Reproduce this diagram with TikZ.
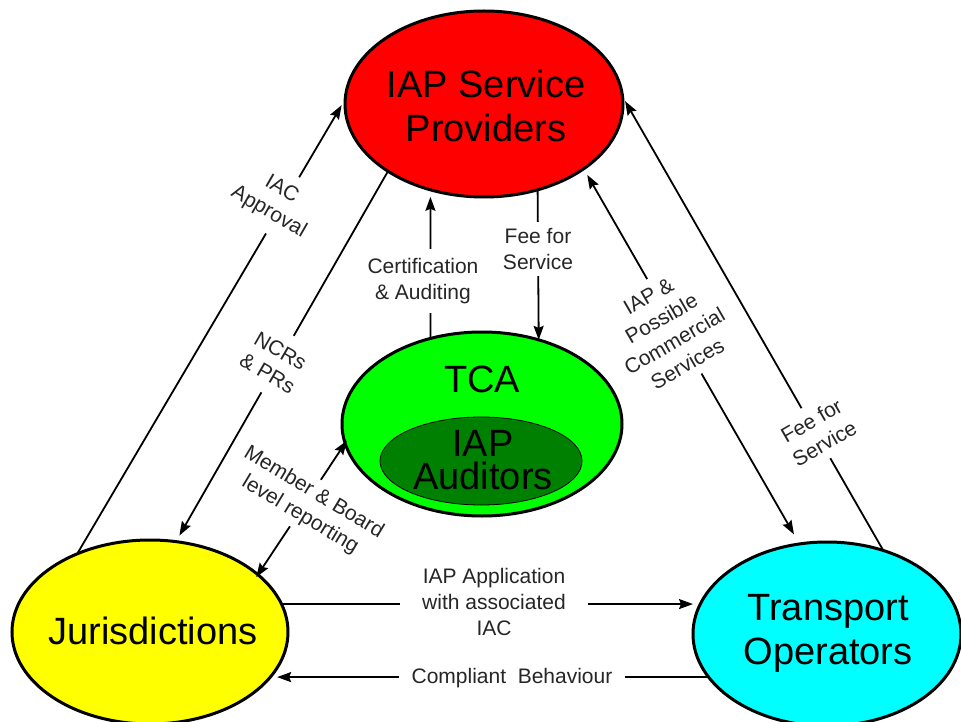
\documentclass[tikz,border=0pt]{standalone}
\usepackage{fontspec}
\setmainfont{Liberation Sans}
\usetikzlibrary{shapes.geometric,arrows.meta}
\definecolor{provred}{RGB}{255,0,0}
\definecolor{tcagreen}{RGB}{0,255,0}
\definecolor{auditgreen}{RGB}{0,128,0}
\definecolor{juryellow}{RGB}{255,255,0}
\definecolor{opcyan}{RGB}{0,255,255}
\begin{document}
\begin{tikzpicture}[x=1pt,y=-1pt,
  party/.style={ellipse,draw=black,line width=3pt,inner sep=0pt,outer sep=0pt},
  bigtext/.style={font=\fontsize{38}{44}\selectfont,align=center,inner sep=0pt},
  flow/.style={line width=1.8pt,-{Stealth[length=14pt,width=10pt,inset=2pt]}},
  twoway/.style={line width=1.8pt,{Stealth[length=14pt,width=10pt,inset=2pt]}-{Stealth[length=14pt,width=10pt,inset=2pt]}},
  plain/.style={line width=1.8pt},
  tag/.style={fill=white,font=\fontsize{21}{26}\selectfont,align=center,text=black!85,inner xsep=2pt}
]
\useasboundingbox (0,0) rectangle (961,722);

% the four parties and the audit body
\node[party,fill=provred,minimum width=278pt,minimum height=186pt] (prov) at (484,104) {};
\node[party,fill=tcagreen,minimum width=280pt,minimum height=184pt] (tca) at (482,424) {};
\node[ellipse,draw=black,line width=0.8pt,fill=auditgreen,inner sep=0pt,outer sep=0pt,
      minimum width=202pt,minimum height=88pt] (aud) at (481,461) {};
\node[party,fill=juryellow,minimum width=276pt,minimum height=184pt] (jur) at (150,632) {};
\node[party,fill=opcyan,minimum width=268pt,minimum height=184pt] (ops) at (827,634) {};

\node[bigtext] (provtxt) at (486,106) {IAP Service\\Providers};
\node[bigtext] (tcatxt) at (482,379) {TCA};
\node[bigtext,font=\fontsize{38}{33}\selectfont] (audtxt) at (483,460) {IAP\\Auditors};
\node[bigtext] (jurtxt) at (153,631) {Jurisdictions};
\node[bigtext] (opstxt) at (828,633) {Transport\\Operators};

% relationships
\draw[flow,shorten >=7pt] (jur.133) -- (prov.178);
\draw[flow,shorten >=7pt] (prov.215) -- (jur.74);
\draw[twoway,shorten <=-3pt,shorten >=-3pt] (jur.28) -- (tca.188);
\draw[flow,shorten >=7pt] (tca.121) -- (prov.238);
\draw[flow] (prov.302) -- (tca.56);
\draw[twoway,shorten <=11pt,shorten >=7pt] (ops.107) -- (prov.327);
\draw[flow,shorten >=5pt] (ops.56) -- (prov.3);
\draw[flow] (jur.12) -- (jur.12 -| ops.west);
\draw[flow,shorten >=6pt] (ops.200) -- (ops.200 -| jur.340);

% relationship labels
\node[tag,rotate=-30,inner ysep=10pt] (iacL) at (275,201) {IAC\\Approval};
\node[tag,rotate=-30,inner ysep=12pt] (ncrL) at (274,362) {NCRs\\\& PRs};
\node[tag,rotate=-31,inner ysep=5pt] (memL) at (307,504) {Member \& Board\\level reporting};
\node[tag,inner ysep=9pt] (certL) at (423,281) {Certification\\\& Auditing};
\node[tag,inner ysep=6pt] (feeL) at (538,249) {Fee for\\Service};
\node[tag,rotate=30,inner ysep=8pt] (iapL) at (668,330) {IAP \&\\Possible\\Commercial\\Services};
\node[tag,rotate=30,inner ysep=8pt] (fee2L) at (818,432) {Fee for\\Service};
\node[tag,inner xsep=22pt,inner ysep=1pt] (appL) at (494,602) {IAP Application\\with associated\\IAC};
\node[tag,inner xsep=13pt,inner ysep=1pt] (compL) at (512,678) {Compliant\ \ Behaviour};
\end{tikzpicture}
\end{document}
